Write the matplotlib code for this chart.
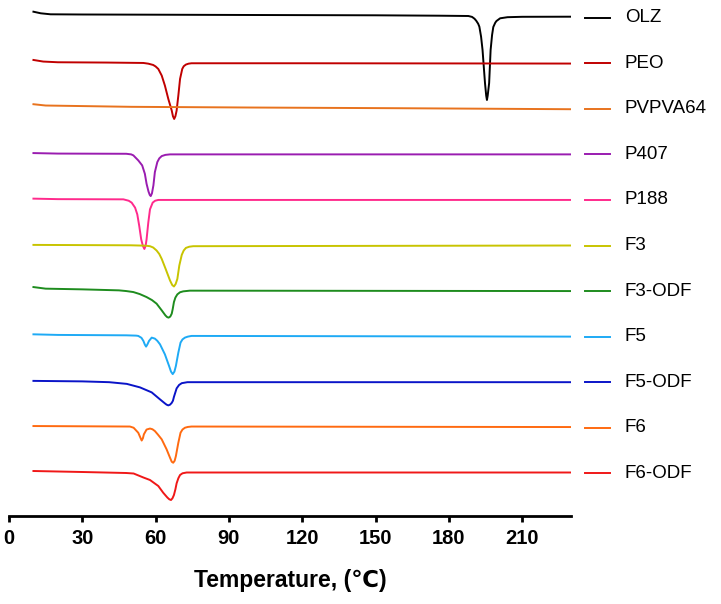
import matplotlib
matplotlib.use('Agg')
import matplotlib.pyplot as plt
import numpy as np

# DSC thermograms, heat flow (arbitrary units, endo down) vs temperature (C)
names = ['OLZ', 'PEO', 'PVPVA64', 'P407', 'P188', 'F3', 'F3-ODF', 'F5', 'F5-ODF', 'F6', 'F6-ODF']

olz_t = [10, 13, 17, 30, 60, 100, 150, 176, 188, 189.5, 190.5, 191.2, 192, 192.5, 193.2, 193.8, 194.8,
         195.3, 195.6, 195.9, 196.5, 197.1, 197.7, 198.2, 199, 199.5, 201, 204, 210, 230]
olz_h = [0.6, 0.44, 0.34, 0.32, 0.3, 0.27, 0.24, 0.2, 0.17, 0.08, -0.1, -0.3, -0.6, -0.9, -1.9, -3.23,
         -6.53, -7.8, -8.23, -7.8, -6.53, -3.23, -1.73, -0.93, -0.5, -0.33, -0.06, 0.05, 0.09, 0.1]

peo_t = [10, 14, 20, 40, 55, 57, 59, 60, 61.1, 62.5, 63.8, 65.2, 66.6, 67.1, 67.6, 68.1, 68.6, 69.3, 70,
         70.9, 71.5, 72.4, 73.5, 74.7, 120, 230]
peo_h = [0.33, 0.17, 0.1, 0.07, 0.03, -0.04, -0.17, -0.32, -0.57, -1.23, -2.23, -3.57, -4.73, -5.3, -5.57,
         -5.3, -4.73, -3.23, -1.57, -0.57, -0.3, -0.13, -0.04, 0.0, 0.0, -0.03]

pvp_t = [10, 15, 50, 98.6, 160, 230]
pvp_h = [0.46, 0.33, 0.2, 0.13, 0.06, -0.04]

p407_t = [10, 20, 48, 50, 50.9, 52.9, 54.5, 55.6, 56.3, 57.1, 57.6, 58.0, 58.5, 59.1, 59.7, 60.7, 61.5,
          62.5, 64, 65.9, 230]
p407_h = [0.13, 0.08, 0.06, 0.0, -0.1, -0.6, -1.1, -1.94, -2.94, -3.72, -4.05, -4.17, -3.9, -3.1, -1.77,
          -0.77, -0.4, -0.17, -0.05, 0.0, 0.0]

p188_t = [10, 20, 46.8, 49, 50.2, 51.6, 52.5, 53.3, 54.1, 54.8, 55.4, 55.9, 56.3, 57.0, 57.7, 58.8, 59.8,
          61.1, 230]
p188_h = [0.13, 0.08, 0.06, -0.08, -0.27, -0.77, -1.44, -2.6, -3.94, -4.6, -4.9, -4.6, -3.94, -2.27, -0.94,
          -0.27, -0.08, 0.0, 0.0]

f3_t = [10, 50, 56, 57.7, 59, 60.4, 61.5, 62.5, 64.1, 65.9, 66.8, 67.5, 68.2, 68.9, 69.7, 70.7, 71.5, 72.4,
        73.8, 75.4, 230]
f3_h = [0.06, 0.02, -0.02, -0.07, -0.2, -0.5, -0.85, -1.34, -2.34, -3.5, -3.95, -4.1, -3.85, -3.34, -2.0,
        -0.94, -0.5, -0.24, -0.12, -0.07, 0.0]

f3o_t = [10, 15, 30, 45, 48, 50.9, 53.5, 56.3, 58.5, 60.4, 62.5, 64, 64.7, 65.3, 66.0, 66.6, 67.0, 67.5,
         68.1, 68.9, 70, 71.3, 74, 230]
f3o_h = [0.4, 0.24, 0.17, 0.07, 0.0, -0.1, -0.3, -0.6, -0.9, -1.26, -1.93, -2.43, -2.6, -2.66, -2.55, -2.26,
         -1.8, -1.1, -0.65, -0.33, -0.12, -0.03, 0.04, 0.0]

f5_t = [10, 20, 48, 52, 52.9, 54.2, 55, 55.6, 56.1, 56.6, 57.3, 58.4, 59.7, 60.7, 61.8, 63.8, 65.5, 66.3,
        67.0, 67.7, 68.3, 69.3, 70.2, 71, 72, 73.2, 74.7, 230]
f5_h = [0.23, 0.17, 0.13, 0.1, 0.07, -0.12, -0.43, -0.8, -1.0, -0.8, -0.43, -0.1, -0.2, -0.42, -0.77, -1.77,
        -2.93, -3.5, -3.75, -3.5, -2.93, -1.6, -0.6, -0.28, -0.1, 0.0, 0.07, 0.0]

f5o_t = [10, 30, 41, 48.2, 53.6, 58.4, 61.8, 63.8, 64.5, 65.2, 65.9, 66.6, 67.1, 67.5, 68.6, 69.6, 70.7,
         73, 230]
f5o_h = [0.13, 0.08, 0.0, -0.17, -0.52, -1.02, -1.72, -2.12, -2.25, -2.32, -2.25, -2.07, -1.85, -1.47,
         -0.62, -0.28, -0.1, 0.0, 0.0]

f6_t = [10, 49.5, 51.0, 52.9, 53.7, 54.3, 54.8, 55.2, 56.3, 57.7, 58.7, 59.7, 61, 62.5, 64.5, 65.9, 66.6,
        67.2, 67.8, 68.3, 69.3, 70.2, 71, 72, 73.2, 74.7, 230]
f6_h = [0.17, 0.12, 0.0, -0.5, -0.95, -1.28, -1.05, -0.66, -0.18, -0.08, -0.15, -0.33, -0.7, -1.16, -2.16,
        -3.0, -3.4, -3.5, -3.3, -2.83, -1.5, -0.5, -0.18, 0.0, 0.08, 0.12, 0.07]

f6o_t = [10, 30, 48, 51, 55, 57.7, 61.1, 63.1, 64.8, 65.6, 66.3, 66.9, 67.5, 68.1, 68.6, 69.3, 70, 71,
         72.7, 230]
f6o_h = [0.23, 0.13, 0.03, -0.02, -0.42, -0.67, -1.27, -1.94, -2.42, -2.6, -2.67, -2.5, -2.17, -1.6, -1.0,
         -0.5, -0.17, 0.0, 0.08, 0.08]

temps = [olz_t, peo_t, pvp_t, p407_t, p188_t, f3_t, f3o_t, f5_t, f5o_t, f6_t, f6o_t]
flows = [olz_h, peo_h, pvp_h, p407_h, p188_h, f3_h, f3o_h, f5_h, f5o_h, f6_h, f6o_h]

colors = ['#000000', '#C00000', '#E8731E', '#9A1CB0', '#FF2A8C', '#C8C400',
          '#1E8C1E', '#1EAAF5', '#0A14C8', '#FF6A10', '#F01818']

# vertical stacking of the curves
first = -1.77
step = 4.556

fig = plt.figure(figsize=(7.21, 6.04), dpi=100)
ax = fig.add_axes([9 / 721, (604 - 515.7) / 604, 562 / 721, 515.7 / 604])

for i, name in enumerate(names):
    off = first - step * i
    ax.plot(temps[i], np.array(flows[i]) + off, color=colors[i], lw=1.4)
    # legend key to the right of the axes
    ax.plot([235.7, 246.0], [off, off], color=colors[i], lw=1.4, clip_on=False)
    ax.text(252.0, off, name, fontsize=13.5, family=['Liberation Sans', 'DejaVu Sans'],
            va='center', ha='left')

ax.set_xlim(0, 230)
ax.set_ylim(-51.57, 0)
ax.set_xticks(np.arange(0, 211, 30))
for s in ['top', 'right', 'left']:
    ax.spines[s].set_visible(False)
ax.spines['bottom'].set_linewidth(2.0)
ax.set_yticks([])
ax.tick_params(axis='x', width=2.0, length=4.5, pad=5)
for lbl in ax.get_xticklabels():
    lbl.set_fontfamily(['Liberation Sans', 'DejaVu Sans'])
    lbl.set_fontweight('bold')
    lbl.set_fontsize(14.5)
ax.set_xlabel('Temperature, (℃)', fontsize=16.5, fontweight='bold',
              family=['Liberation Sans', 'DejaVu Sans'], labelpad=15)

fig.savefig('out.png', dpi=100)
